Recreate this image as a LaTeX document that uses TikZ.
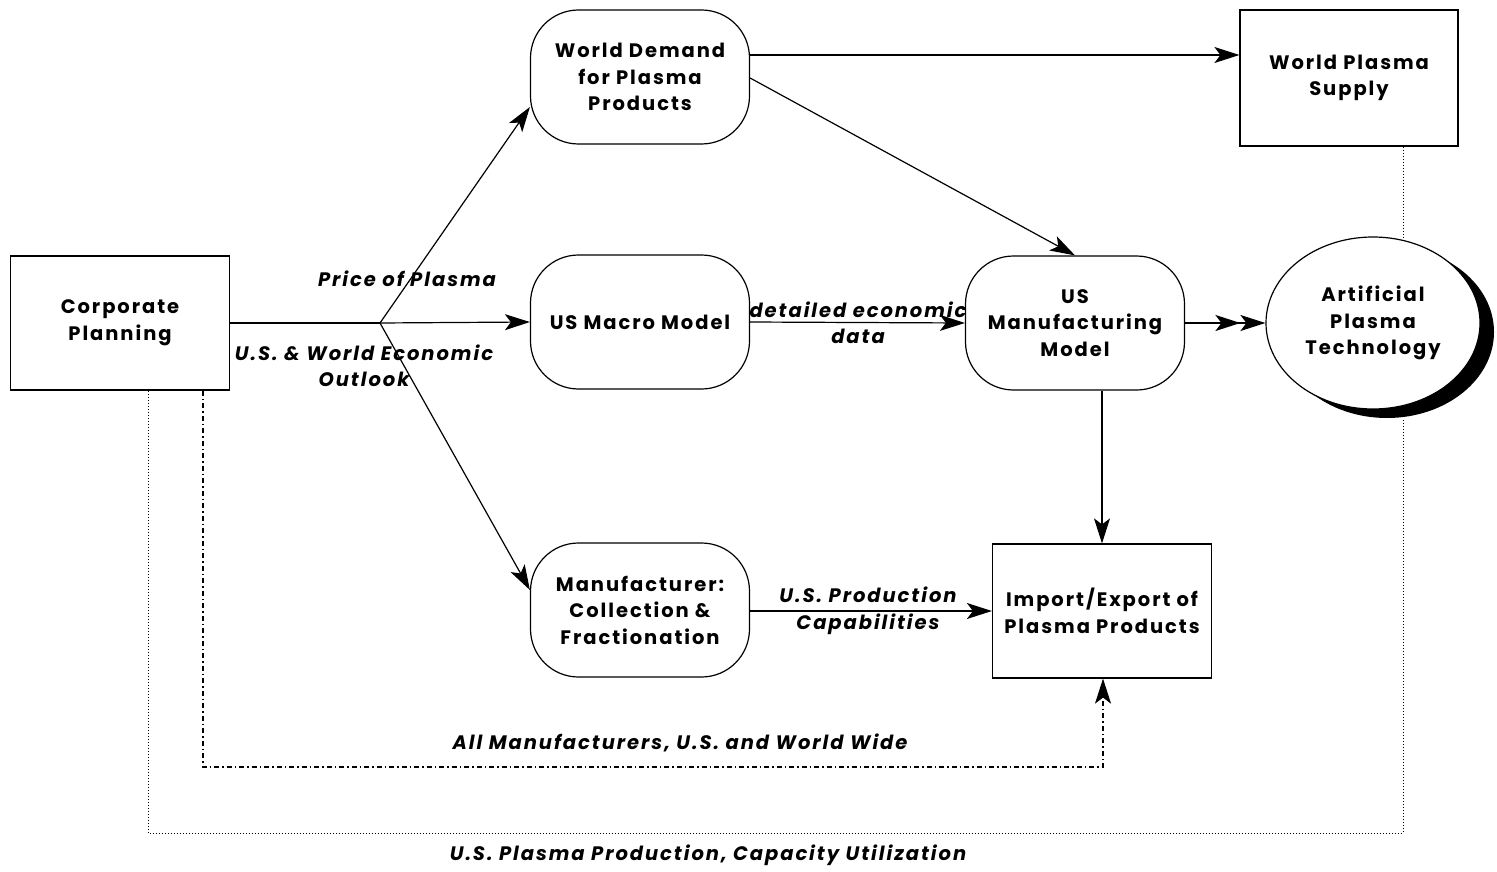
\documentclass[tikz,border=0pt]{standalone}
\usepackage{fontspec}
\setmainfont{Poppins}[LetterSpace=10]
\usetikzlibrary{arrows.meta,shapes.geometric,calc}
\begin{document}
\begin{tikzpicture}[x=1pt,y=-1pt,
  font=\fontsize{19.5}{26.5}\selectfont\bfseries,
  box/.style={draw,line width=1.2pt,minimum width=219,minimum height=134,align=center,inner sep=0},
  pill/.style={box,rounded corners=48},
  lbl/.style={font=\fontsize{19.5}{26.5}\selectfont\bfseries\itshape,align=center,inner sep=1},
  tip/.tip={Stealth[length=25pt,width=16pt,inset=6pt]},
  link/.style={line width=1.2pt,-tip},
  dotline/.style={line width=1pt,dotted},
  dashdot/.style={line width=1.3pt,dash pattern=on 5pt off 3pt on 1.5pt off 3pt}]
\useasboundingbox (0,0) rectangle (1497,872);

% boxes and models
\node[box]  (cp)  at (120,323) {Corporate\\Planning};
\node[pill] (wd)  at (640,77)  {World Demand\\for Plasma\\Products};
\node[pill] (mac) at (640,322) {US Macro Model};
\node[pill] (mf)  at (640,610) {Manufacturer:\\Collection \&\\Fractionation};
\node[pill] (usm) at (1075,323) {US\\Manufacturing\\Model};
\node[box]  (ie)  at (1102,611) {Import/Export of\\Plasma Products};
\node[box,minimum width=218,minimum height=136] (wps) at (1349,78) {World Plasma\\Supply};

% artificial plasma technology with its shadow
\fill[black] (1387,332) ellipse [x radius=107, y radius=86];
\node[draw,fill=white,line width=1.2pt,ellipse,minimum width=214,minimum height=172,inner sep=0,align=center]
  (apt) at (1373,323) {Artificial\\Plasma\\Technology};

% fan-out from corporate planning
\coordinate (br) at (380,323);
\draw[line width=1.1pt] (cp.east) -- (br);
\draw[link] (br) -- (wd.west |- 0,107);
\draw[link] (br) -- (mac.west);
\draw[link] (br) -- (mf.west |- 0,590);

% model links
\draw[link] (wd.east |- 0,55) -- (wps.west |- 0,55);
\draw[link] (wd.east |- 0,78) -- (usm.north);
\draw[link] (mac.east) -- (usm.west);
\draw[line width=1.2pt,-{tip[]tip[]}] (usm.east) -- (apt.west);
\draw[link] (usm.south -| ie.north) -- (ie.north);
\draw[link] (mf.east |- 0,611) -- (ie.west |- 0,611);

% feedback paths
\draw[dashdot,-tip] (cp.south -| 203,0) -- (203,767) -- (1103,767) -- (ie.south -| 1103,0);
\draw[dotline] (cp.south -| 148,0) -- (148,833) -- (1403,833) -- (1403,419);
\draw[dotline] (wps.south -| 1403,0) -- (1403,238);

% labels
\node[lbl] (l1) at (407,279) {Price of Plasma};
\node[lbl] (l2) at (364,366) {U.S. \& World Economic\\Outlook};
\node[lbl] (l3) at (858,323) {detailed economic\\data};
\node[lbl] (l4) at (868,611) {U.S. Production\\Capabilities};
\node[lbl] (l5) at (680,743) {All Manufacturers, U.S. and World Wide};
\node[lbl] (l6) at (708,855) {U.S. Plasma Production, Capacity Utilization};
\end{tikzpicture}
\end{document}
